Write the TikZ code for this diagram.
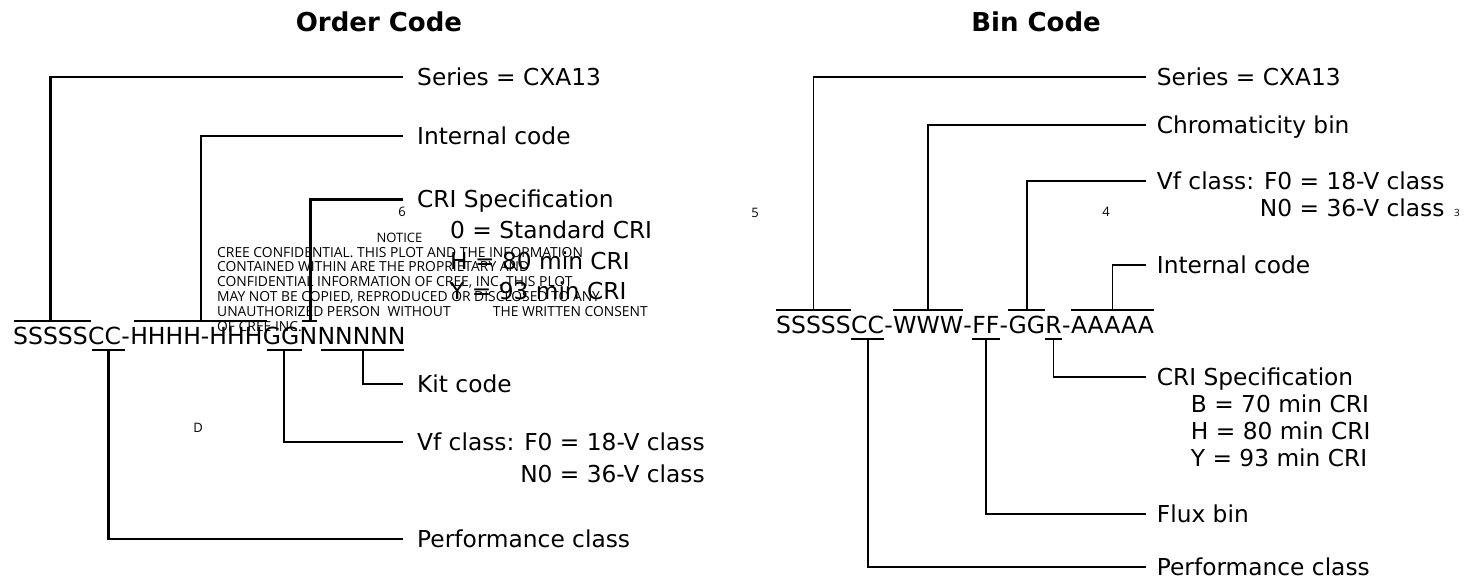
\documentclass[tikz,border=0pt]{standalone}
\usepackage{fontspec}
\setmainfont{DejaVu Sans}
\newfontfamily\notefont{Open Sans}
\usetikzlibrary{positioning,calc}
\definecolor{txt}{HTML}{000000}
\definecolor{lnB}{HTML}{000000}

\begin{document}
\begin{tikzpicture}[
  x=1pt,y=1pt,text=txt,
  ttl/.style={font=\fontsize{26}{30}\selectfont\bfseries,inner sep=0pt},
  lbl/.style={font=\fontsize{23.3}{28}\selectfont,inner xsep=14pt,inner ysep=0pt,text height=17pt,text depth=0pt,anchor=west},
  lblR/.style={lbl,inner xsep=10.7pt},
  code/.style={font=\fontsize{23.5}{28}\selectfont,inner sep=0pt,text height=17.1pt,text depth=0pt},
  brk/.style={draw=lnB,line width=2.2pt},
  brkR/.style={draw=lnB,line width=1.8pt},
  tiny/.style={font=\notefont\fontsize{13}{15}\selectfont,inner sep=0pt},
  note/.style={font=\notefont\fontsize{13.85}{14.9}\selectfont,inner sep=0pt,align=left,anchor=north west},
  ]
\useasboundingbox (0,0) rectangle (1481,580);

% ---- titles ----
\node[ttl] (oTtl) at (379,558.5) {Order Code};
\node[ttl] (bTtl) at (1036,558.5) {Bin Code};

% ---- order code string ----
\node[code,anchor=base west] (oS) at (13,235) {SSSSS};
\node[code,right=0pt of oS] (oC) {CC};
\node[code,right=0pt of oC] (oD1) {-};
\node[code,right=0pt of oD1] (oH) {HHHH-HHH};
\node[code,right=0pt of oH] (oG) {GG};
\node[code,right=0pt of oG] (oN) {N};
\node[code,right=0pt of oN] (oK) {NNNNN};

% ---- order code labels ----
\node[lbl] (oSer) at (403,503) {Series = CXA13};
\node[lbl] (oInt) at (403,444) {Internal code};
\node[lbl] (oCri) at (403,380.5) {CRI Specification};
\node[lbl] (oCri1) at ($(oCri.west)+(33,-31)$) {0 = Standard CRI};
\node[lbl] (oCri2) at ($(oCri.west)+(33,-62)$) {H = 80 min CRI};
\node[lbl] (oCri3) at ($(oCri.west)+(33,-92)$) {Y = 93 min CRI};
\node[lbl] (oKit) at (403,196) {Kit code};
\node[lbl] (oVf) at (403,138) {Vf class: F0 = 18-V class};
\node[lbl,anchor=east] (oVf2) at ($(oVf.east)+(0,-32)$) {N0 = 36-V class};
\node[lbl] (oPerf) at (403,41) {Performance class};

% ---- order code brackets ----
\draw[brk] ([xshift=1pt,yshift=6.5pt]oS.north west) -- ([xshift=3pt,yshift=6.5pt]oS.north east);
\draw[brk] ([yshift=6.5pt]oS.north) |- (oSer.west);
\draw[brk] ([xshift=4pt,yshift=6.5pt]oH.north west) -- ([xshift=4pt,yshift=6.5pt]oH.north east);
\draw[brk] ([xshift=5pt,yshift=6.5pt]oH.north) |- (oInt.west);
\draw[brk] ([xshift=3pt,yshift=6.5pt]oN.north west) -- ([yshift=6.5pt]oN.north east);
\draw[brk] ([xshift=2pt,yshift=6.5pt]oN.north) |- (oCri.west);
\draw[brk] ([xshift=4pt,yshift=-5pt]oC.south west) -- ([xshift=4pt,yshift=-5pt]oC.south east);
\draw[brk] ([xshift=4pt,yshift=-5pt]oC.south) |- (oPerf.west);
\draw[brk] ([xshift=4pt,yshift=-5pt]oG.south west) -- ([xshift=3pt,yshift=-5pt]oG.south east);
\draw[brk] ([xshift=3pt,yshift=-5pt]oG.south) |- (oVf.west);
\draw[brk] ([xshift=4pt,yshift=-5pt]oK.south west) -- ([xshift=-2pt,yshift=-5pt]oK.south east);
\draw[brk] ([xshift=1pt,yshift=-5pt]oK.south) |- (oKit.west);

% ---- notice + marks ----
\node[tiny] (ntc) at (399.5,342) {NOTICE};
\node[note] (ntxt) at (217,333.2) {CREE CONFIDENTIAL. THIS PLOT AND THE INFORMATION\\
CONTAINED WITHIN ARE THE PROPRIETARY AND\\
CONFIDENTIAL INFORMATION OF CREE, INC. THIS PLOT\\
MAY NOT BE COPIED, REPRODUCED OR DISCLOSED TO ANY\\
\makebox[275.7pt][l]{UNAUTHORIZED PERSON\ \ WITHOUT}THE WRITTEN CONSENT\\
OF CREE INC.};
\node[tiny] (m6) at (402,368) {6};
\node[tiny] (m5) at (755,367) {5};
\node[tiny] (m4) at (1106,368) {4};
\node[tiny,font=\notefont\fontsize{10}{12}\selectfont] (m3) at (1457,367) {3};
\node[tiny] (mD) at (198,152) {D};

% ---- bin code string ----
\node[code,anchor=base west] (bS) at (776,246.5) {SSSSS};
\node[code,right=0pt of bS] (bC) {CC};
\node[code,right=0pt of bC] (bD1) {-};
\node[code,right=0pt of bD1] (bW) {WWW};
\node[code,right=0pt of bW] (bD2) {-};
\node[code,right=0pt of bD2] (bF) {FF};
\node[code,right=0pt of bF] (bD3) {-};
\node[code,right=0pt of bD3] (bG) {GG};
\node[code,right=0pt of bG] (bR) {R};
\node[code,right=0pt of bR] (bD4) {-};
\node[code,right=0pt of bD4] (bA) {AAAAA};

% ---- bin code labels ----
\node[lblR] (bSer) at (1146,503) {Series = CXA13};
\node[lblR] (bChr) at (1146,455) {Chromaticity bin};
\node[lblR] (bVf) at (1146,399) {Vf class: F0 = 18-V class};
\node[lblR,anchor=east] (bVf2) at ($(bVf.east)+(0,-27)$) {N0 = 36-V class};
\node[lblR] (bInt) at (1146,315) {Internal code};
\node[lblR] (bCri) at (1146,203) {CRI Specification};
\node[lblR] (bCri1) at ($(bCri.west)+(34,-27)$) {B = 70 min CRI};
\node[lblR] (bCri2) at ($(bCri.west)+(34,-54)$) {H = 80 min CRI};
\node[lblR] (bCri3) at ($(bCri.west)+(34,-81)$) {Y = 93 min CRI};
\node[lblR] (bFlux) at (1146,66) {Flux bin};
\node[lblR] (bPerf) at (1146,13) {Performance class};

% ---- bin code brackets ----
\draw[brkR] ([yshift=6.5pt]bS.north west) -- ([yshift=6.5pt]bS.north east);
\draw[brkR] ([yshift=6.5pt]bS.north) |- (bSer.west);
\draw[brkR] ([yshift=6.5pt]bW.north west) -- ([yshift=6.5pt]bW.north east);
\draw[brkR] ([yshift=6.5pt]bW.north) |- (bChr.west);
\draw[brkR] ([yshift=6.5pt]bG.north west) -- ([yshift=6.5pt]bG.north east);
\draw[brkR] ([yshift=6.5pt]bG.north) |- (bVf.west);
\draw[brkR] ([yshift=6.5pt]bA.north west) -- ([yshift=6.5pt]bA.north east);
\draw[brkR] ([yshift=6.5pt]bA.north) |- (bInt.west);
\draw[brkR] ([yshift=-5pt]bC.south west) -- ([yshift=-5pt]bC.south east);
\draw[brkR] ([yshift=-5pt]bC.south) |- (bPerf.west);
\draw[brkR] ([yshift=-5pt]bF.south west) -- ([yshift=-5pt]bF.south east);
\draw[brkR] ([yshift=-5pt]bF.south) |- (bFlux.west);
\draw[brkR] ([yshift=-5pt]bR.south west) -- ([yshift=-5pt]bR.south east);
\draw[brkR] ([yshift=-5pt]bR.south) |- (bCri.west);

\end{tikzpicture}
\end{document}
